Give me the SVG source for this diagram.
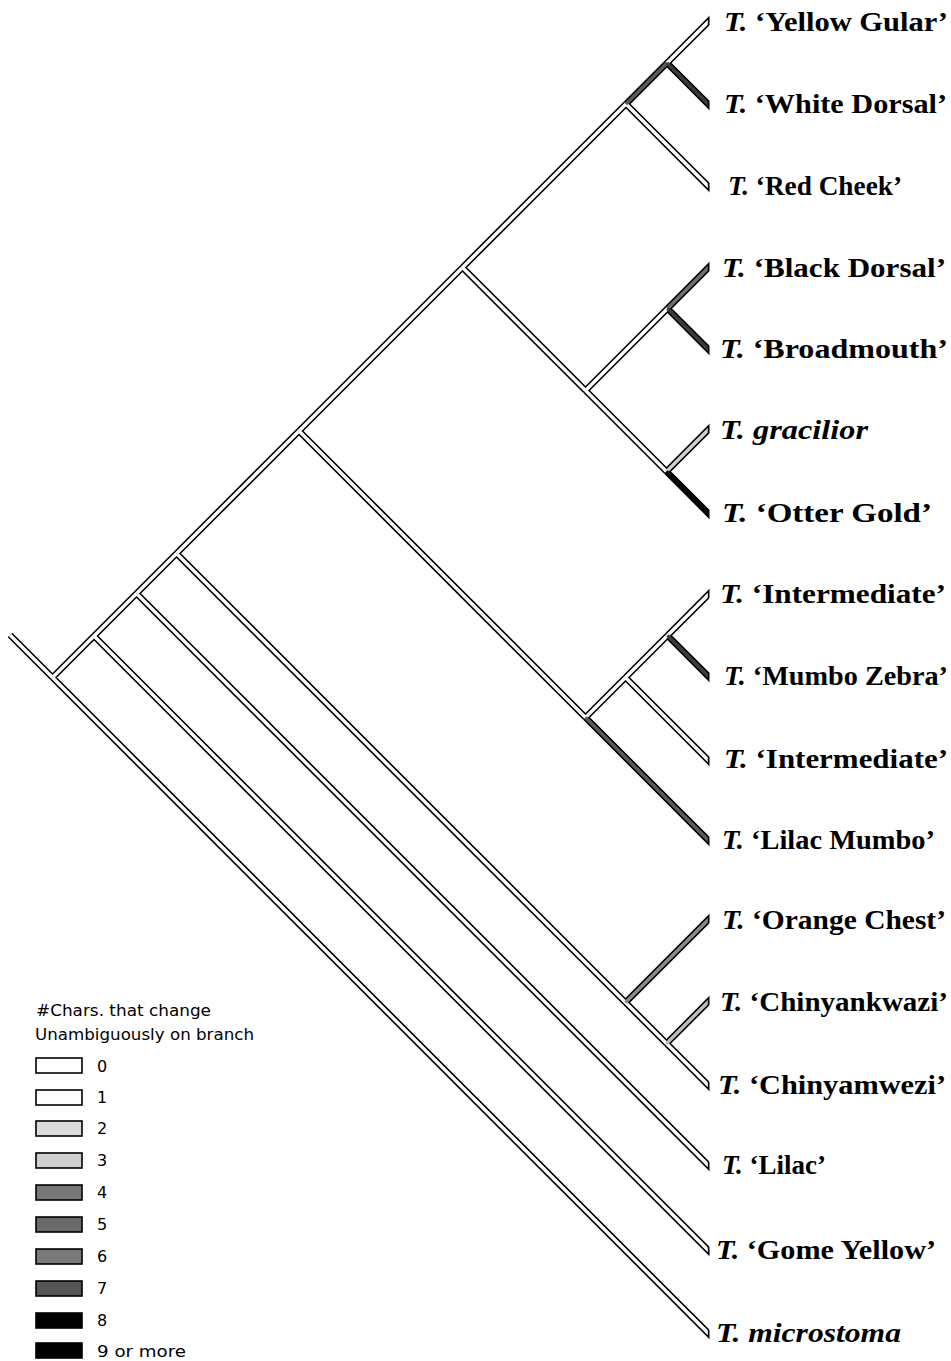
<svg xmlns="http://www.w3.org/2000/svg" width="951" height="1361" viewBox="0 0 951 1361">
<style>
.ol{stroke:#000;stroke-width:6.6;fill:none;stroke-linecap:butt}
.f{stroke-width:3.4;fill:none;stroke-linecap:butt;stroke:#fff}
.c2{stroke:#cfcfcf}.c3{stroke:#bdbdbd}.c4{stroke:#8a8a8a}.c5{stroke:#6e6e6e}.c6{stroke:#5a5a5a}.c7{stroke:#3c3c3c}.c8{stroke:#000}
.lab{font-family:"Liberation Serif","Times New Roman",serif;font-weight:bold;font-size:28px;fill:#000}
.it{font-style:italic}
.lg{font-family:"DejaVu Sans",Verdana,sans-serif;font-size:15px;fill:#000}
.num{font-family:"DejaVu Sans",Verdana,sans-serif;font-size:16px;fill:#000}
.box{stroke:#000;stroke-width:1.6}
</style>
<defs>
<clipPath id="clipO" clipPathUnits="userSpaceOnUse"><rect x="0" y="0" width="709.5" height="1361"/></clipPath>
<clipPath id="clipF" clipPathUnits="userSpaceOnUse"><rect x="0" y="0" width="707.8" height="1361"/></clipPath>
</defs>
<rect width="951" height="1361" fill="#fff"/>
<g id="connectors">
<g id="outlines" class="ol" clip-path="url(#clipO)">
<line x1="10" y1="635" x2="52.5" y2="677.5"/>
<line x1="52.5" y1="677.5" x2="94" y2="636"/>
<line x1="52.5" y1="677.5" x2="716" y2="1341"/>
<line x1="94" y1="636" x2="136.5" y2="593.5"/>
<line x1="94" y1="636" x2="716" y2="1258"/>
<line x1="136.5" y1="593.5" x2="176.5" y2="553.5"/>
<line x1="136.5" y1="593.5" x2="716" y2="1173"/>
<line x1="176.5" y1="553.5" x2="299" y2="431"/>
<line x1="176.5" y1="553.5" x2="625.5" y2="1002.5"/>
<line x1="299" y1="431" x2="462.5" y2="267.5"/>
<line x1="299" y1="431" x2="585.5" y2="717.5"/>
<line x1="462.5" y1="267.5" x2="626" y2="104"/>
<line x1="462.5" y1="267.5" x2="585.5" y2="390.5"/>
<line x1="626" y1="104" x2="667" y2="63"/>
<line x1="626" y1="104" x2="716" y2="194"/>
<line x1="667" y1="63" x2="716" y2="14"/>
<line x1="667" y1="63" x2="716" y2="112"/>
<line x1="585.5" y1="390.5" x2="667.5" y2="308.5"/>
<line x1="585.5" y1="390.5" x2="666.5" y2="471.5"/>
<line x1="667.5" y1="308.5" x2="716" y2="260"/>
<line x1="667.5" y1="308.5" x2="716" y2="357"/>
<line x1="666.5" y1="471.5" x2="716" y2="422"/>
<line x1="666.5" y1="471.5" x2="716" y2="521"/>
<line x1="585.5" y1="717.5" x2="625.5" y2="677.5"/>
<line x1="585.5" y1="717.5" x2="716" y2="848"/>
<line x1="625.5" y1="677.5" x2="667.5" y2="635.5"/>
<line x1="625.5" y1="677.5" x2="716" y2="768"/>
<line x1="667.5" y1="635.5" x2="716" y2="587"/>
<line x1="667.5" y1="635.5" x2="716" y2="684"/>
<line x1="625.5" y1="1002.5" x2="716" y2="912"/>
<line x1="625.5" y1="1002.5" x2="666.5" y2="1043.5"/>
<line x1="666.5" y1="1043.5" x2="716" y2="994"/>
<line x1="666.5" y1="1043.5" x2="716" y2="1093"/>
</g>
<g id="fills" clip-path="url(#clipF)">
<line class="f" x1="10" y1="635" x2="52.5" y2="677.5"/>
<line class="f" x1="52.5" y1="677.5" x2="94" y2="636"/>
<line class="f" x1="52.5" y1="677.5" x2="716" y2="1341"/>
<line class="f" x1="94" y1="636" x2="136.5" y2="593.5"/>
<line class="f" x1="94" y1="636" x2="716" y2="1258"/>
<line class="f" x1="136.5" y1="593.5" x2="176.5" y2="553.5"/>
<line class="f" x1="136.5" y1="593.5" x2="716" y2="1173"/>
<line class="f" x1="176.5" y1="553.5" x2="299" y2="431"/>
<line class="f" x1="176.5" y1="553.5" x2="625.5" y2="1002.5"/>
<line class="f" x1="299" y1="431" x2="462.5" y2="267.5"/>
<line class="f" x1="299" y1="431" x2="585.5" y2="717.5"/>
<line class="f" x1="462.5" y1="267.5" x2="626" y2="104"/>
<line class="f" x1="462.5" y1="267.5" x2="585.5" y2="390.5"/>
<line class="f" x1="626" y1="104" x2="716" y2="194"/>
<line class="f" x1="667" y1="63" x2="716" y2="14"/>
<line class="f" x1="585.5" y1="390.5" x2="667.5" y2="308.5"/>
<line class="f" x1="585.5" y1="390.5" x2="666.5" y2="471.5"/>
<line class="f" x1="585.5" y1="717.5" x2="625.5" y2="677.5"/>
<line class="f" x1="625.5" y1="677.5" x2="667.5" y2="635.5"/>
<line class="f" x1="625.5" y1="677.5" x2="716" y2="768"/>
<line class="f" x1="667.5" y1="635.5" x2="716" y2="587"/>
<line class="f" x1="625.5" y1="1002.5" x2="666.5" y2="1043.5"/>
<line class="f" x1="666.5" y1="1043.5" x2="716" y2="1093"/>
<line class="f c6" x1="626" y1="104" x2="667" y2="63"/>
<line class="f c7" x1="667" y1="63" x2="716" y2="112"/>
<line class="f c5" x1="667.5" y1="308.5" x2="716" y2="260"/>
<line class="f c7" x1="667.5" y1="308.5" x2="716" y2="357"/>
<line class="f c2" x1="666.5" y1="471.5" x2="716" y2="422"/>
<line class="f c8" x1="666.5" y1="471.5" x2="716" y2="521"/>
<line class="f c6" x1="585.5" y1="717.5" x2="716" y2="848"/>
<line class="f c7" x1="667.5" y1="635.5" x2="716" y2="684"/>
<line class="f c4" x1="625.5" y1="1002.5" x2="716" y2="912"/>
<line class="f c3" x1="666.5" y1="1043.5" x2="716" y2="994"/>
</g>
</g>
<g id="tip-yellow-gular"><text class="lab" x="724" y="31" textLength="224" lengthAdjust="spacingAndGlyphs"><tspan class="it">T.</tspan> ‘Yellow Gular’</text></g>
<g id="tip-white-dorsal"><text class="lab" x="724" y="113" textLength="223" lengthAdjust="spacingAndGlyphs"><tspan class="it">T.</tspan> ‘White Dorsal’</text></g>
<g id="tip-red-cheek"><text class="lab" x="728" y="195" textLength="174" lengthAdjust="spacingAndGlyphs"><tspan class="it">T.</tspan> ‘Red Cheek’</text></g>
<g id="tip-black-dorsal"><text class="lab" x="722" y="277" textLength="224" lengthAdjust="spacingAndGlyphs"><tspan class="it">T.</tspan> ‘Black Dorsal’</text></g>
<g id="tip-broadmouth"><text class="lab" x="720" y="358" textLength="228" lengthAdjust="spacingAndGlyphs"><tspan class="it">T.</tspan> ‘Broadmouth’</text></g>
<g id="tip-gracilior"><text class="lab it" x="720" y="439" textLength="148" lengthAdjust="spacingAndGlyphs">T. gracilior</text></g>
<g id="tip-otter-gold"><text class="lab" x="722" y="522" textLength="210" lengthAdjust="spacingAndGlyphs"><tspan class="it">T.</tspan> ‘Otter Gold’</text></g>
<g id="tip-intermediate-1"><text class="lab" x="720" y="603" textLength="226" lengthAdjust="spacingAndGlyphs"><tspan class="it">T.</tspan> ‘Intermediate’</text></g>
<g id="tip-mumbo-zebra"><text class="lab" x="724" y="685" textLength="224" lengthAdjust="spacingAndGlyphs"><tspan class="it">T.</tspan> ‘Mumbo Zebra’</text></g>
<g id="tip-intermediate-2"><text class="lab" x="724" y="768" textLength="224" lengthAdjust="spacingAndGlyphs"><tspan class="it">T.</tspan> ‘Intermediate’</text></g>
<g id="tip-lilac-mumbo"><text class="lab" x="722" y="849" textLength="213" lengthAdjust="spacingAndGlyphs"><tspan class="it">T.</tspan> ‘Lilac Mumbo’</text></g>
<g id="tip-orange-chest"><text class="lab" x="722" y="929" textLength="224" lengthAdjust="spacingAndGlyphs"><tspan class="it">T.</tspan> ‘Orange Chest’</text></g>
<g id="tip-chinyankwazi"><text class="lab" x="720" y="1011" textLength="228" lengthAdjust="spacingAndGlyphs"><tspan class="it">T.</tspan> ‘Chinyankwazi’</text></g>
<g id="tip-chinyamwezi"><text class="lab" x="718" y="1094" textLength="228" lengthAdjust="spacingAndGlyphs"><tspan class="it">T.</tspan> ‘Chinyamwezi’</text></g>
<g id="tip-lilac"><text class="lab" x="722" y="1174" textLength="104" lengthAdjust="spacingAndGlyphs"><tspan class="it">T.</tspan> ‘Lilac’</text></g>
<g id="tip-gome-yellow"><text class="lab" x="716" y="1259" textLength="220" lengthAdjust="spacingAndGlyphs"><tspan class="it">T.</tspan> ‘Gome Yellow’</text></g>
<g id="tip-microstoma"><text class="lab it" x="716" y="1342" textLength="185" lengthAdjust="spacingAndGlyphs">T. microstoma</text></g>
<g id="legend">
<text class="lg" x="36" y="1016" textLength="175" lengthAdjust="spacingAndGlyphs">#Chars. that change</text>
<text class="lg" x="35" y="1040" textLength="219" lengthAdjust="spacingAndGlyphs">Unambiguously on branch</text>
<rect class="box" x="36" y="1058" width="46" height="15" fill="#fff"/><text class="num" x="97" y="1072">0</text>
<rect class="box" x="36" y="1090" width="46" height="15" fill="#fff"/><text class="num" x="97" y="1103">1</text>
<rect class="box" x="36" y="1121" width="46" height="15" fill="#dcdcdc"/><text class="num" x="97" y="1134">2</text>
<rect class="box" x="36" y="1153" width="46" height="15" fill="#cfcfcf"/><text class="num" x="97" y="1166">3</text>
<rect class="box" x="36" y="1185" width="46" height="15" fill="#777"/><text class="num" x="97" y="1198">4</text>
<rect class="box" x="36" y="1217" width="46" height="15" fill="#6a6a6a"/><text class="num" x="97" y="1230">5</text>
<rect class="box" x="36" y="1249" width="46" height="15" fill="#7a7a7a"/><text class="num" x="97" y="1262">6</text>
<rect class="box" x="36" y="1281" width="46" height="15" fill="#555"/><text class="num" x="97" y="1294">7</text>
<rect class="box" x="36" y="1313" width="46" height="15" fill="#000"/><text class="num" x="97" y="1326">8</text>
<rect class="box" x="36" y="1343" width="46" height="15" fill="#000"/><text class="num" x="97" y="1357" textLength="89" lengthAdjust="spacingAndGlyphs">9 or more</text>
</g>
</svg>
